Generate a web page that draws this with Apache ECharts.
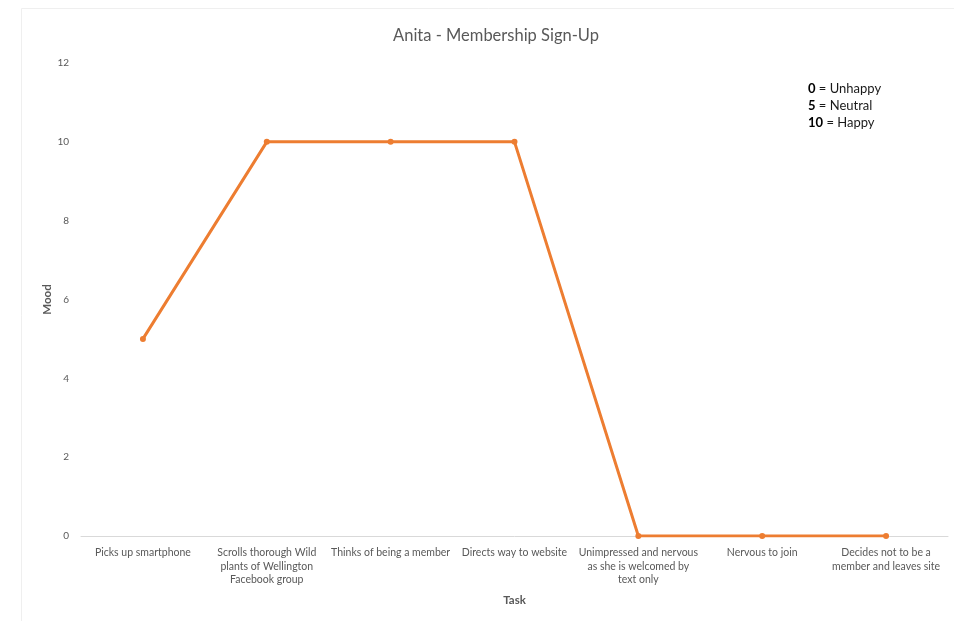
<!DOCTYPE html>
<html>
<head>
<meta charset="utf-8">
<script src="https://cdn.jsdelivr.net/npm/echarts@6/dist/echarts.min.js"></script>
<style>html,body{margin:0;padding:0;background:#fff;}#c{width:954px;height:621px;}</style>
</head>
<body>
<div id="c"></div>
<script>
const categories = [
  "Picks up smartphone",
  "Scrolls thorough Wild\nplants of Wellington\nFacebook group",
  "Thinks of being a member",
  "Directs way to website",
  "Unimpressed and nervous\nas she is welcomed by\ntext only",
  "Nervous to join",
  "Decides not to be a\nmember and leaves site"
];
const moodValues = [5, 10, 10, 10, 0, 0, 0];
const yTicks = [0, 2, 4, 6, 8, 10, 12];
const keyLines = [["0", "Unhappy"], ["5", "Neutral"], ["10", "Happy"]];

const FONT = 'Lato, "Open Sans", sans-serif';
const chart = echarts.init(document.getElementById('c'), null, {renderer: 'canvas'});
chart.setOption({
  backgroundColor: '#fff',
  animation: false,
  title: {
    text: 'Anita - Membership Sign-Up',
    left: 491, top: 22, textAlign: 'center',
    textStyle: {fontFamily: FONT, fontSize: 16.5, fontWeight: 'normal', color: '#595959'}
  },
  grid: {left: 81, right: 6, top: 63, bottom: 85, containLabel: false},
  xAxis: {
    type: 'category',
    data: categories,
    boundaryGap: true,
    name: 'Task',
    nameLocation: 'middle',
    nameGap: 58,
    nameTextStyle: {fontFamily: FONT, fontSize: 11.5, fontWeight: 'bold', color: '#595959'},
    axisLine: {lineStyle: {color: '#d9d9d9', width: 1}},
    axisTick: {show: false},
    axisLabel: {interval: 0, margin: 10, fontFamily: FONT, fontSize: 10.5, color: '#595959', lineHeight: 13.5, align: 'center'}
  },
  yAxis: {
    type: 'value',
    min: 0, max: 12, interval: 2,
    name: 'Mood',
    nameLocation: 'middle',
    nameGap: 28,
    nameMoveOverlap: false,
    nameRotate: 90,
    nameTextStyle: {fontFamily: FONT, fontSize: 11.5, fontWeight: 'bold', color: '#595959'},
    axisLine: {show: false},
    axisTick: {show: false},
    splitLine: {show: false},
    axisLabel: {margin: 12, fontFamily: FONT, fontSize: 10, color: '#595959',
      formatter: v => yTicks.includes(v) ? String(v) : ''}
  },
  series: [{
    type: 'line',
    data: moodValues,
    symbol: 'circle',
    symbolSize: 6,
    lineStyle: {color: '#ED7D31', width: 3},
    itemStyle: {color: '#ED7D31'}
  }],
  graphic: [
    {type: 'rect', left: 19, top: 6, shape: {width: 960, height: 640},
     style: {fill: 'none', stroke: '#efefef', lineWidth: 1}, silent: true},
    {type: 'text', left: 808, top: 80,
     style: {
       text: keyLines.map(k => '{b|' + k[0] + '} = ' + k[1]).join('\n'),
       fontFamily: FONT, fontSize: 13, lineHeight: 17, fill: '#1a1a1a',
       rich: {b: {fontFamily: FONT, fontSize: 13, fontWeight: 'bold', fill: '#000'}}
     }}
  ]
});
</script>
</body>
</html>
